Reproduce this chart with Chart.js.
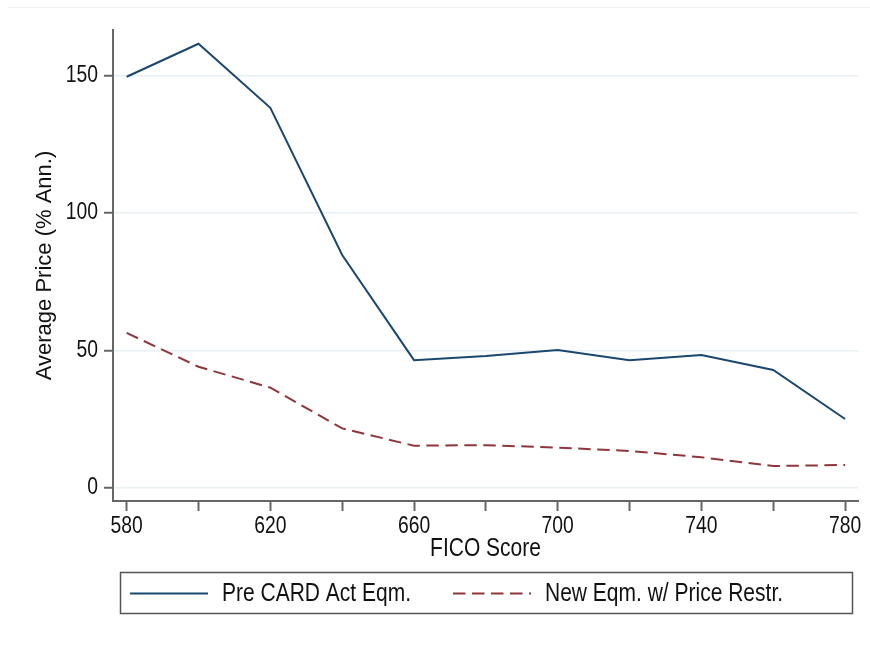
<!DOCTYPE html>
<html>
<head>
<meta charset="utf-8">
<script src="https://cdn.jsdelivr.net/npm/chart.js@4.4.1/dist/chart.umd.min.js"></script>
<style>
  html, body { margin: 0; padding: 0; background: #ffffff; }
  #wrap { position: relative; width: 870px; height: 668px; }
  #topline { position: absolute; left: 8px; top: 7px; width: 862px; height: 0; border-top: 1px solid #f0f0f0; }
  canvas { position: absolute; left: 0; top: 0; }
</style>
</head>
<body>
<div id="wrap">
  <div id="topline"></div>
  <canvas id="c" width="870" height="668"></canvas>
</div>
<script>
// ---- data ----
const ficoScores = [580, 600, 620, 640, 660, 680, 700, 720, 740, 760, 780];
const preCardActEqm = [149.5, 161.5, 138.2, 84.7, 46.5, 48.0, 50.2, 46.5, 48.4, 42.9, 25.1];
const newEqmPriceRestr = [56.4, 44.1, 36.5, 21.7, 15.4, 15.6, 14.7, 13.5, 11.2, 8.0, 8.4];
const seriesLabels = ['Pre CARD Act Eqm.', 'New Eqm. w/ Price Restr.'];
const xTickValues = [580, 600, 620, 640, 660, 680, 700, 720, 740, 760, 780];
const xLabeledTicks = [580, 620, 660, 700, 740, 780];
const yTickValues = [0, 50, 100, 150];
const xAxisTitle = 'FICO Score';
const yAxisTitle = 'Average Price (% Ann.)';

const FONT = "'Liberation Sans', Arial, Helvetica, sans-serif";
const AXIS_COLOR = '#666666';
const GRID_COLOR = '#e9f0f3';
const SQUEEZE = 0.84; // horizontal text condensing (Helvetica-narrow look)

// Condense horizontal text a little, like the reference's narrow Helvetica.
const narrowText = {
  id: 'narrowText',
  beforeDraw(chart) {
    const ctx = chart.ctx;
    if (ctx.__narrowPatched) return;
    const orig = ctx.fillText.bind(ctx);
    ctx.fillText = function (t, x, y, mw) {
      const m = ctx.getTransform();
      if (Math.abs(m.b) > 1e-6 || Math.abs(m.c) > 1e-6) {
        return mw === undefined ? orig(t, x, y) : orig(t, x, y, mw);
      }
      ctx.save();
      ctx.translate(x, y);
      ctx.scale(SQUEEZE, 1);
      orig(t, 0, 0);
      ctx.restore();
    };
    ctx.__narrowPatched = true;
  }
};

const legendBox = {
  id: 'legendBox',
  afterDraw(chart) {
    const ctx = chart.ctx;
    ctx.save();
    ctx.strokeStyle = '#555555';
    ctx.lineWidth = 1.5;
    ctx.setLineDash([]);
    ctx.strokeRect(120.5, 572.5, 732, 41);
    const starts = [130, 453];
    const y = 593.5;
    chart.data.datasets.forEach((ds, i) => {
      const x0 = starts[i];
      ctx.strokeStyle = ds.borderColor;
      ctx.lineWidth = ds.borderWidth;
      ctx.setLineDash(ds.borderDash || []);
      ctx.beginPath();
      ctx.moveTo(x0, y);
      ctx.lineTo(x0 + 78, y);
      ctx.stroke();
      ctx.setLineDash([]);
      ctx.fillStyle = '#111111';
      ctx.font = '25px ' + FONT;
      ctx.textBaseline = 'middle';
      ctx.textAlign = 'left';
      ctx.fillText(ds.label, x0 + 92, y + 1);
    });
    ctx.restore();
  }
};

const toPoints = (xs, ys) => xs.map((x, i) => ({ x: x, y: ys[i] }));

new Chart(document.getElementById('c'), {
  type: 'line',
  data: {
    datasets: [
      {
        label: seriesLabels[0],
        data: toPoints(ficoScores, preCardActEqm),
        borderColor: '#1a476f',
        borderWidth: 2,
        pointRadius: 0,
        tension: 0,
        fill: false
      },
      {
        label: seriesLabels[1],
        data: toPoints(ficoScores, newEqmPriceRestr),
        borderColor: '#90353b',
        borderWidth: 2,
        borderDash: [12.5, 6.5],
        pointRadius: 0,
        tension: 0,
        fill: false
      }
    ]
  },
  options: {
    responsive: false,
    animation: false,
    devicePixelRatio: 1,
    layout: { padding: { left: 0, top: 30, right: 12, bottom: 0 } },
    plugins: {
      legend: { display: false },
      tooltip: { enabled: false }
    },
    scales: {
      x: {
        type: 'linear',
        min: 576.2,
        max: 783.6,
        afterBuildTicks: (s) => { s.ticks = xTickValues.map(v => ({ value: v })); },
        afterFit: (s) => { s.height = 167; },
        ticks: {
          autoSkip: false,
          maxRotation: 0,
          padding: 2,
          color: '#111111',
          font: { family: FONT, size: 23 },
          callback: (v) => (xLabeledTicks.includes(v) ? String(v) : '')
        },
        grid: {
          display: true,
          drawOnChartArea: false,
          drawTicks: true,
          tickLength: 10,
          tickColor: AXIS_COLOR,
          tickWidth: 2
        },
        border: { display: true, color: AXIS_COLOR, width: 2 },
        title: {
          display: true,
          text: xAxisTitle,
          color: '#111111',
          font: { family: FONT, size: 25 },
          padding: { top: 0, bottom: 104 }
        }
      },
      y: {
        type: 'linear',
        min: -4.7,
        max: 166.5,
        afterBuildTicks: (s) => { s.ticks = yTickValues.map(v => ({ value: v })); },
        afterFit: (s) => { s.width = 113; },
        ticks: {
          padding: 6,
          color: '#111111',
          font: { family: FONT, size: 23 }
        },
        grid: {
          display: true,
          color: GRID_COLOR,
          lineWidth: 1.5,
          drawTicks: true,
          tickLength: 9,
          tickColor: AXIS_COLOR,
          tickWidth: 2
        },
        border: { display: true, color: AXIS_COLOR, width: 2 },
        title: {
          display: true,
          text: yAxisTitle,
          color: '#111111',
          font: { family: FONT, size: 22 },
          padding: { top: 32, bottom: 0 }
        }
      }
    }
  },
  plugins: [narrowText, legendBox]
});
</script>
</body>
</html>
